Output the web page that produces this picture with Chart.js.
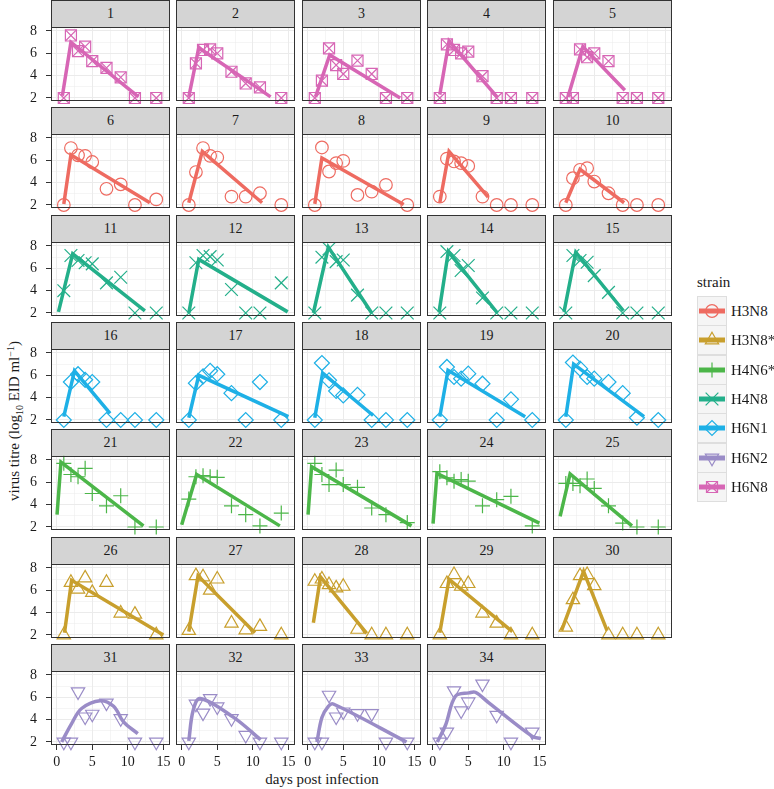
<!DOCTYPE html>
<html>
<head>
<meta charset="utf-8">
<title>virus titre by animal</title>
<script src="https://cdn.jsdelivr.net/npm/chart.js@4.4.1/dist/chart.umd.min.js"></script>
<style>
  body { margin: 0; background: #fff; }
  #wrap { position: relative; width: 774px; height: 789px; overflow: hidden;
          font-family: "Liberation Serif", "DejaVu Serif", serif; color: #1a1a1a; }
  .strip { position: absolute; box-sizing: border-box; width: 119px; height: 28px;
           background: #d4d4d4; border: 1px solid #333; font-size: 14px;
           line-height: 26px; text-align: center; }
  .panel { position: absolute; }
  .title-x { position: absolute; left: 222px; top: 772px; width: 200px; text-align: center;
             font-size: 15px; line-height: 15px; white-space: nowrap; }
  .title-y { position: absolute; left: -86px; top: 413px; width: 200px; height: 16px;
             text-align: center; font-size: 15px; line-height: 16px; white-space: nowrap;
             transform: rotate(-90deg); }
  .title-y span { font-size: 10px; position: relative; line-height: 0; }
  .leg-title { position: absolute; left: 697px; top: 273px; font-size: 15px; line-height: 18px; }
  .leg-key { position: absolute; left: 697px; }
  .leg-lab { position: absolute; left: 731px; font-size: 15px; line-height: 18px; }
</style>
</head>
<body>
<div id="wrap">
  <div class="title-x">days post infection</div>
  <div class="title-y">virus titre (log<span style="top:4px">10</span> EID ml<span style="top:-5px">−1</span>)</div>
  <div class="leg-title">strain</div>
</div>
<script>
/* --------------------------------------------------------------
   DATA
   -------------------------------------------------------------- */
const strains = ['H3N8', 'H3N8*', 'H4N6*', 'H4N8', 'H6N1', 'H6N2', 'H6N8'];

// strain of each animal / panel 1..34
const panelStrain = [
  'H6N8', 'H6N8', 'H6N8', 'H6N8', 'H6N8',
  'H3N8', 'H3N8', 'H3N8', 'H3N8', 'H3N8',
  'H4N8', 'H4N8', 'H4N8', 'H4N8', 'H4N8',
  'H6N1', 'H6N1', 'H6N1', 'H6N1', 'H6N1',
  'H4N6*', 'H4N6*', 'H4N6*', 'H4N6*', 'H4N6*',
  'H3N8*', 'H3N8*', 'H3N8*', 'H3N8*', 'H3N8*',
  'H6N2', 'H6N2', 'H6N2', 'H6N2'
];

// sampling days
const days = [1, 2, 3, 4, 5, 7, 9, 11, 14];

// observed titre per panel, one value per sampling day
const titre = [
  [2, 7.6, 6.2, 6.6, 5.3, 4.7, 3.85, 2, 2],
  [2, 5.1, 6.3, 6.35, 6.0, 4.35, 3.3, 2.95, 2],
  [2, 3.55, 6.45, 4.95, 4.15, 5.35, 4.15, 2, 2],
  [2, 6.8, 6.3, 6.0, 6.15, 3.95, 2, 2, 2],
  [2, 2, 6.35, 5.65, 6.0, 5.3, 2, 2, 2],
  [2, 7.1, 6.45, 6.4, 5.85, 3.45, 3.85, 2, 2.5],
  [2, 4.95, 7.1, 6.4, 6.25, 2.75, 2.75, 3.05, 2],
  [2, 7.15, 5.0, 5.75, 5.95, 2.9, 3.2, 3.8, 2],
  [2.75, 6.15, 5.9, 5.75, 5.5, 2.75, 2, 2, 2],
  [2, 4.4, 5.15, 5.3, 4.1, 3.05, 2, 2, 2],
  [4.0, 7.15, 6.7, 6.5, 6.4, 4.7, 5.2, 2, 2],
  [2, 6.5, 7.15, 7.05, 6.75, 4.1, 2, 2, 4.7],
  [2, 7.0, 7.75, 6.6, 6.75, 3.6, 2, 2, 2],
  [2, 7.5, 7.15, 5.8, 6.25, 3.35, 2, 2, 2],
  [2, 7.15, 6.7, 6.55, 5.35, 3.85, 2, 2, 2],
  [2, 5.4, 6.1, 5.6, 5.4, 2, 2, 2, 2],
  [2, 5.3, 5.9, 6.4, 6.1, 4.4, 2, 5.4, 2],
  [2, 7.1, 5.55, 4.6, 4.2, 4.25, 2, 2, 2],
  [2, 6.75, 5.85, 5.7, 6.15, 5.25, 2, 3.85, 2],
  [2, 7.15, 6.6, 5.85, 5.7, 5.4, 4.4, 2.2, 2],
  [7.7, 6.7, 6.5, 7.25, 5.0, 3.9, 4.8, 2, 2],
  [4.5, 6.5, 6.6, 6.5, 6.45, 3.9, 3.1, 2.1, 3.25],
  [7.7, 6.7, 5.8, 7.1, 5.8, 5.55, 3.7, 3.1, 2.4],
  [6.95, 6.4, 6.1, 6.25, 6.1, 3.9, 4.45, 4.75, 2.1],
  [5.9, 5.9, 5.7, 6.3, 5.45, 3.9, 2.35, 2, 2],
  [2, 6.7, 6.1, 7.1, 5.8, 6.7, 3.95, 3.85, 2],
  [2.4, 7.3, 7.2, 6.0, 7.0, 3.05, 2.45, 2.75, 2],
  [6.8, 7.0, 6.5, 6.2, 6.35, 2.5, 2, 2, 2],
  [2, 6.6, 7.4, 6.35, 6.6, 3.95, 3.05, 2, 2],
  [2.7, 5.15, 7.3, 7.4, 6.4, 2, 2, 2, 2],
  [2, 2, 6.5, 4.25, 4.5, 5.5, 4.1, 2, 2],
  [2, 5.4, 4.6, 5.9, 5.15, 4.1, 2.6, 2, 2],
  [2, 2, 6.2, 4.25, 4.7, 4.55, 4.55, 2, 2],
  [2, 2.9, 6.6, 4.8, 5.6, 7.2, 4.4, 2, 2.9]
];

// fitted curve per panel (days / titre)
const fitDays = [
  [0.8, 2.0, 11.5], [1, 2.4, 12.5], [1.1, 3.1, 13], [1, 2.3, 9.1], [1.3, 3.4, 9.3],
  [1, 2.0, 13.1], [1, 2.9, 11.3], [1, 2.0, 13.5], [1, 2.3, 7.8], [1, 3, 9.2],
  [0.25, 2.25, 12.4], [1, 2.4, 14.9], [0.8, 2.9, 9], [0.9, 2.2, 9.1], [0.75, 2.4, 9.1],
  [1, 2.5, 7.5], [1, 2.4, 15], [1, 2.1, 9.2], [1, 2.15, 13], [1, 2.1, 12],
  [0.05, 0.6, 12.2], [0, 2.1, 13.8], [0.05, 0.55, 14.6], [0.05, 0.6, 15], [0.2, 1.6, 10.3],
  [1.1, 2.1, 15], [1, 2.3, 10.3], [0.8, 1.8, 8.3], [1, 2.3, 11.2], [0.4, 3.5, 6.8],
  [0.7, 2.1, 3.5, 6.1, 8, 9.4, 11.4],
  [1, 1.6, 2.6, 7.3, 11.1],
  [1.3, 2.0, 2.9, 3.6, 13.9],
  [0.65, 1.8, 3.2, 5.1, 6, 7.9, 14, 15.2]
];
const fitTitre = [
  [2.2, 7.0, 2.1], [2.1, 6.5, 2.1], [2.1, 5.85, 2.0], [2.3, 7.1, 2.05], [2.1, 6.6, 2.7],
  [2.1, 6.5, 2.2], [2.2, 6.8, 2.2], [2.1, 6.2, 2.05], [2.2, 6.8, 2.7], [2.2, 5.2, 2.2],
  [2.1, 7.3, 2.2], [2.0, 6.8, 2.1], [2.0, 7.9, 2.0], [2.1, 7.5, 2.0], [2.1, 7.45, 2.2],
  [2.3, 6.4, 2.6], [2.2, 6.0, 2.3], [2.2, 6.2, 2.4], [2.3, 6.45, 2.3], [2.3, 7.0, 2.3],
  [3.1, 7.8, 2.1], [2.2, 6.7, 2.1], [3.1, 7.4, 2.1], [2.3, 6.8, 2.35], [2.95, 6.75, 2.1],
  [2.2, 6.9, 2.0], [2.3, 7.3, 2.2], [3.1, 7.2, 2.15], [2.2, 7.0, 2.3], [2.4, 7.7, 2.4],
  [2.0, 3.65, 5.0, 5.7, 5.2, 3.8, 2.75],
  [2.1, 4.8, 5.9, 4.2, 2.2],
  [2.0, 4.2, 5.2, 5.4, 2.0],
  [2.0, 3.5, 6.1, 6.4, 6.45, 5.5, 2.5, 2.3]
];

// axis breaks (major + minor)
const xTicks = [0, 2.5, 5, 7.5, 10, 12.5, 15];
const yTicks = [2, 3, 4, 5, 6, 7, 8];

/* --------------------------------------------------------------
   STYLE / LAYOUT
   -------------------------------------------------------------- */
const FONT = '"Liberation Serif", "DejaVu Serif", serif';
const strainStyle = {
  'H3N8':  { color: '#EE6B61', tension: 0, shapes: [['circle', 6.3, 0]] },
  'H3N8*': { color: '#C89F2D', tension: 0, shapes: [['triangle', 7.7, 0]] },
  'H4N6*': { color: '#4CB649', tension: 0, shapes: [['cross', 7.5, 0]] },
  'H4N8':  { color: '#23AF8A', tension: 0, shapes: [['crossRot', 9, 0]] },
  'H6N1':  { color: '#1EB0E6', tension: 0, shapes: [['rectRot', 7.5, 0]] },
  'H6N2':  { color: '#9A8CC7', tension: 0.35, shapes: [['triangle', 7.7, 180]] },
  'H6N8':  { color: '#D766B5', tension: 0, shapes: [['rect', 7.8, 0], ['crossRot', 7.8, 0]] }
};

const colLeft = [51, 176, 302, 427, 553];
const rowTop  = [0, 107, 215, 322, 429, 537, 644];
const stripH = 27, plotW = 119, plotH = 74;
// generous outer padding so tick-label overflow never squeezes the plot area
const axisW = 50, axisH = 30, padTop = 24, padRight = 20;
const xMin = -0.8, xMax = 15.93, yMin = 1.731, yMax = 8.358;

const wrap = document.getElementById('wrap');

// panel border drawn round the chart area
const panelBorder = {
  id: 'panelBorder',
  afterDraw(chart) {
    const a = chart.chartArea, g = chart.ctx;
    g.save();
    g.strokeStyle = '#333';
    g.lineWidth = 1;
    g.strokeRect(Math.round(a.left) + 0.5, Math.round(a.top) + 0.5,
                 Math.round(a.right - a.left) - 1, Math.round(a.bottom - a.top) - 1);
    g.restore();
  }
};

const isMajorX = v => v % 5 === 0;
const isMajorY = v => v % 2 === 0;

/* --------------------------------------------------------------
   PANELS
   -------------------------------------------------------------- */
titre.forEach((vals, i) => {
  const r = Math.floor(i / 5), c = i % 5;
  const st = strainStyle[panelStrain[i]];
  const left = colLeft[c], top = rowTop[r];

  const strip = document.createElement('div');
  strip.className = 'strip';
  strip.style.left = left + 'px';
  strip.style.top = top + 'px';
  strip.textContent = String(i + 1);
  wrap.appendChild(strip);

  const cv = document.createElement('canvas');
  cv.className = 'panel';
  cv.width = axisW + plotW + padRight;
  cv.height = padTop + plotH + axisH;
  wrap.appendChild(cv);

  const showY = c === 0;
  const showX = i >= 30;

  const obs = days.map((d, k) => ({ x: d, y: vals[k] }));
  const fit = fitDays[i].map((d, k) => ({ x: d, y: fitTitre[i][k] }));

  const datasets = [{
    type: 'line', data: fit, borderColor: st.color, borderWidth: 3.5,
    pointRadius: 0, tension: st.tension, fill: false, clip: false
  }];
  st.shapes.forEach(([ps, rad, rot]) => {
    datasets.push({
      type: 'scatter', data: obs, pointStyle: ps, pointRadius: rad, pointRotation: rot,
      pointBorderColor: st.color, pointBackgroundColor: 'rgba(0,0,0,0)',
      pointBorderWidth: 1.2, clip: false
    });
  });

  const chart = new Chart(cv, {
    data: { datasets },
    options: {
      responsive: false, maintainAspectRatio: false, animation: false, devicePixelRatio: 1,
      events: [],
      layout: { autoPadding: false, padding: { top: padTop, right: padRight, left: 0, bottom: 0 } },
      plugins: { legend: { display: false }, tooltip: { enabled: false } },
      scales: {
        x: {
          type: 'linear', min: xMin, max: xMax,
          afterBuildTicks: s => { s.ticks = xTicks.map(v => ({ value: v })); },
          afterFit: s => { s.height = axisH; },
          border: { display: false },
          grid: {
            color: '#ebebeb',
            lineWidth: ctx => (ctx.tick && !isMajorX(ctx.tick.value)) ? 0.5 : 1,
            drawTicks: true, tickLength: 5, tickWidth: 1,
            tickColor: ctx => (showX && ctx.tick && isMajorX(ctx.tick.value)) ? '#333' : 'rgba(0,0,0,0)'
          },
          ticks: {
            display: showX, autoSkip: false, maxRotation: 0, padding: 4,
            color: '#1a1a1a', font: { family: FONT, size: 14 },
            callback: v => isMajorX(v) ? String(v) : ''
          }
        },
        y: {
          type: 'linear', min: yMin, max: yMax,
          afterBuildTicks: s => { s.ticks = yTicks.map(v => ({ value: v })); },
          afterFit: s => { s.width = axisW; },
          border: { display: false },
          grid: {
            color: '#ebebeb',
            lineWidth: ctx => (ctx.tick && !isMajorY(ctx.tick.value)) ? 0.5 : 1,
            drawTicks: true, tickLength: 5, tickWidth: 1,
            tickColor: ctx => (showY && ctx.tick && isMajorY(ctx.tick.value)) ? '#333' : 'rgba(0,0,0,0)'
          },
          ticks: {
            display: showY, autoSkip: false, padding: 9,
            color: '#1a1a1a', font: { family: FONT, size: 14 },
            callback: v => isMajorY(v) ? String(v) : ''
          }
        }
      }
    },
    plugins: [panelBorder]
  });

  // place the canvas so that its plot area sits on the panel slot
  const a = chart.chartArea;
  cv.style.left = (left - Math.round(a.left)) + 'px';
  cv.style.top = (top + stripH - Math.round(a.top)) + 'px';
});

/* --------------------------------------------------------------
   LEGEND
   -------------------------------------------------------------- */
const legTop = 296, keyH = 29.3;
strains.forEach((s, k) => {
  const st = strainStyle[s];
  const y = Math.round(legTop + k * keyH);

  const key = document.createElement('canvas');
  key.className = 'leg-key';
  key.width = 30; key.height = 30;
  key.style.top = y + 'px';
  wrap.appendChild(key);

  const g = key.getContext('2d');
  g.fillStyle = '#f5f5f5';
  g.fillRect(0, 0, 30, 30);
  g.strokeStyle = '#dedede';
  g.lineWidth = 1;
  g.strokeRect(0.5, 0.5, 29, 29);

  g.strokeStyle = st.color;
  g.lineWidth = 5;
  g.beginPath(); g.moveTo(2, 15); g.lineTo(28, 15); g.stroke();

  g.lineWidth = 1.2;
  g.fillStyle = 'rgba(0,0,0,0)';
  st.shapes.forEach(([ps, rad, rot]) => {
    if (Chart.helpers && Chart.helpers.drawPoint) {
      Chart.helpers.drawPoint(g, { pointStyle: ps, radius: rad, rotation: rot, borderWidth: 1.2 }, 15, 15);
    } else {
      g.beginPath(); g.arc(15, 15, rad, 0, Math.PI * 2); g.stroke();
    }
  });

  const lab = document.createElement('div');
  lab.className = 'leg-lab';
  lab.style.top = (y + 6) + 'px';
  lab.textContent = s;
  wrap.appendChild(lab);
});
</script>
</body>
</html>
